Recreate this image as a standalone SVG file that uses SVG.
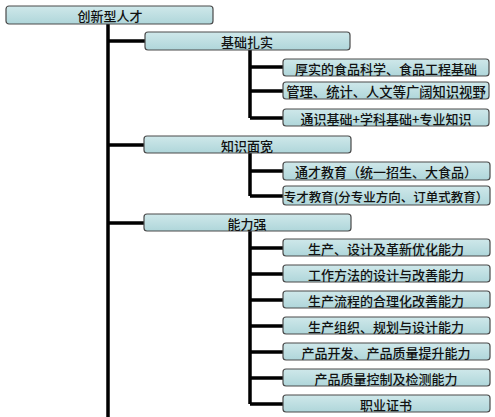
<svg xmlns="http://www.w3.org/2000/svg" width="495" height="417" viewBox="0 0 495 417">
<defs>
<linearGradient id="g" x1="0" y1="0" x2="0" y2="1">
<stop offset="0" stop-color="#cfe8ea"/>
<stop offset="1" stop-color="#afd6da"/>
</linearGradient>
</defs>
<style>
.b{fill:url(#g);stroke:#4a4a4a;stroke-width:1.2}
.t{font-family:"Noto Sans CJK SC","Liberation Sans",sans-serif;font-size:13px;font-weight:500;fill:#111;text-anchor:middle;dominant-baseline:central}
.c{stroke:#000;stroke-width:3.5;fill:none}
</style>
<rect width="495" height="417" fill="#fff"/>
<g id="connectors">
<path class="c" d="M108,24V417"/>
<path class="c" d="M108,41H145M108,145H145M108,223H145"/>
<path class="c" d="M250,50V118M250,67H283M250,91H283M250,118H283"/>
<path class="c" d="M250,153V196M250,171H283M250,196H283"/>
<path class="c" d="M250,231V404M250,248H283M250,274H283M250,300H283M250,326H283M250,352H283M250,378H283M250,404H283"/>
</g>
<g id="root"><rect class="b" x="6" y="6" width="207" height="18" rx="3"/><text class="t" x="110" y="15.5">创新型人才</text></g>
<g id="n1"><rect class="b" x="145" y="32" width="205" height="18" rx="3"/><text class="t" x="247" y="41.5">基础扎实</text></g>
<g id="n1a"><rect class="b" x="283" y="59" width="206" height="17" rx="3"/><text class="t" x="386" y="68">厚实的食品科学、食品工程基础</text></g>
<g id="n1b"><rect class="b" x="283" y="82" width="206" height="17" rx="3"/><text class="t" x="386" y="91" style="font-size:13.3px">管理、统计、人文等广阔知识视野</text></g>
<g id="n1c"><rect class="b" x="283" y="109" width="206" height="17" rx="3"/><text class="t" x="386" y="118">通识基础+学科基础+专业知识</text></g>
<g id="n2"><rect class="b" x="144" y="136" width="207" height="17" rx="3"/><text class="t" x="247" y="145">知识面宽</text></g>
<g id="n2a"><rect class="b" x="283" y="162" width="207" height="18" rx="3"/><text class="t" x="386" y="171.5">通才教育（统一招生、大食品）</text></g>
<g id="n2b"><rect class="b" x="283" y="186" width="207" height="19" rx="3"/><text class="t" x="386" y="196" style="font-size:12.5px">专才教育(分专业方向、订单式教育）</text></g>
<g id="n3"><rect class="b" x="144" y="214" width="207" height="17" rx="3"/><text class="t" x="247" y="223">能力强</text></g>
<g id="n3a"><rect class="b" x="283" y="239" width="207" height="17" rx="3"/><text class="t" x="386" y="248">生产、设计及革新优化能力</text></g>
<g id="n3b"><rect class="b" x="283" y="265" width="207" height="17" rx="3"/><text class="t" x="386" y="274">工作方法的设计与改善能力</text></g>
<g id="n3c"><rect class="b" x="283" y="291" width="207" height="17" rx="3"/><text class="t" x="386" y="300">生产流程的合理化改善能力</text></g>
<g id="n3d"><rect class="b" x="283" y="317" width="207" height="17" rx="3"/><text class="t" x="386" y="326">生产组织、规划与设计能力</text></g>
<g id="n3e"><rect class="b" x="283" y="343" width="207" height="17" rx="3"/><text class="t" x="386" y="352">产品开发、产品质量提升能力</text></g>
<g id="n3f"><rect class="b" x="283" y="369" width="207" height="17" rx="3"/><text class="t" x="386" y="378">产品质量控制及检测能力</text></g>
<g id="n3g"><rect class="b" x="283" y="395" width="207" height="17" rx="3"/><text class="t" x="386" y="404">职业证书</text></g>
</svg>
